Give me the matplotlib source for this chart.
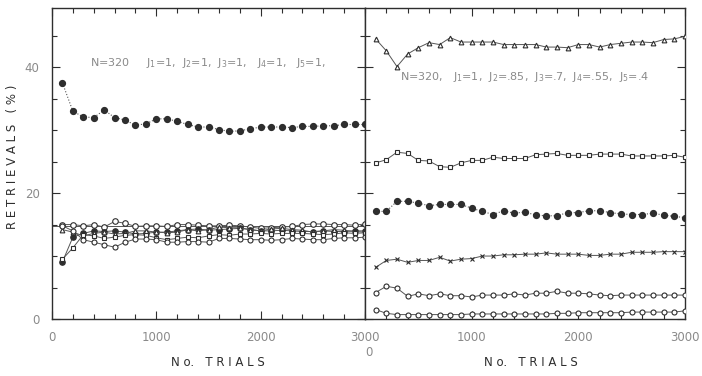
import matplotlib
matplotlib.use("Agg")
import matplotlib.pyplot as plt
from matplotlib.ticker import MultipleLocator

trials = list(range(100, 3001, 100))

# left panel: J1..J5 all = 1
left_top = [37.5, 33.0, 32.1, 32.0, 33.2, 32.0, 31.6, 30.8, 31.0, 31.8,
            31.8, 31.4, 30.9, 30.5, 30.5, 30.1, 29.8, 29.9, 30.2, 30.5,
            30.5, 30.5, 30.4, 30.6, 30.6, 30.7, 30.7, 30.9, 30.9, 30.9]
left_a = [15.0, 15.0, 14.8, 15.0, 14.6, 15.5, 15.2, 14.7, 14.8, 14.8,
          14.7, 15.0, 15.0, 14.9, 14.8, 14.8, 14.9, 14.8, 14.6, 14.4,
          14.5, 14.6, 14.7, 15.0, 15.1, 15.1, 15.0, 15.0, 14.9, 15.1]
left_b = [9.1, 13.0, 13.6, 14.0, 13.9, 14.0, 13.8, 13.5, 13.6, 13.8,
          13.8, 14.0, 14.2, 14.3, 14.1, 14.2, 14.3, 14.4, 14.2, 14.0,
          14.0, 14.1, 14.0, 13.9, 13.9, 14.0, 13.9, 13.9, 14.0, 14.0]
left_c = [14.2, 13.8, 13.2, 13.6, 13.8, 13.5, 13.6, 14.0, 14.0, 13.8,
          13.7, 13.8, 14.2, 14.0, 14.2, 14.6, 14.5, 14.5, 14.2, 14.0,
          14.3, 14.4, 14.2, 14.1, 13.8, 14.0, 14.2, 14.1, 13.9, 13.8]
left_d = [9.5, 11.3, 13.4, 13.2, 12.8, 13.0, 13.3, 13.4, 13.3, 12.9,
          12.6, 12.8, 13.0, 12.9, 13.2, 13.4, 13.3, 13.5, 13.5, 13.6,
          13.5, 13.6, 13.6, 13.6, 13.5, 13.4, 13.5, 13.7, 13.6, 13.7]
left_e = [14.8, 14.0, 12.6, 12.2, 11.8, 11.4, 12.2, 12.7, 12.7, 12.6,
          12.2, 12.2, 12.3, 12.3, 12.2, 12.8, 12.8, 12.7, 12.6, 12.6,
          12.5, 12.6, 12.8, 12.7, 12.6, 12.6, 12.8, 12.9, 12.9, 13.0]
ref_level = 14.8

# right panel: J = 1, .85, .7, .55, .4
right_tri = [44.5, 42.6, 40.1, 42.1, 43.1, 43.9, 43.6, 44.7, 44.0, 44.0,
             44.0, 44.0, 43.6, 43.6, 43.6, 43.6, 43.2, 43.2, 43.1, 43.6,
             43.6, 43.2, 43.6, 43.8, 44.0, 44.0, 43.9, 44.4, 44.5, 44.9]
right_sq = [24.8, 25.3, 26.5, 26.3, 25.2, 25.1, 24.2, 24.1, 24.8, 25.2,
            25.2, 25.7, 25.5, 25.5, 25.5, 26.1, 26.2, 26.3, 26.0, 26.0,
            26.0, 26.2, 26.2, 26.2, 25.9, 25.9, 25.9, 25.9, 26.0, 25.7]
right_fill = [17.1, 17.1, 18.7, 18.7, 18.4, 18.0, 18.2, 18.2, 18.2, 17.6,
              17.1, 16.6, 17.2, 16.8, 17.0, 16.5, 16.4, 16.4, 16.9, 16.9,
              17.2, 17.2, 16.9, 16.7, 16.6, 16.6, 16.8, 16.5, 16.3, 16.1]
right_x = [8.2, 9.3, 9.5, 9.0, 9.3, 9.3, 9.8, 9.2, 9.5, 9.6,
           10.0, 10.0, 10.2, 10.2, 10.3, 10.3, 10.5, 10.3, 10.3, 10.3,
           10.1, 10.1, 10.3, 10.3, 10.6, 10.6, 10.6, 10.7, 10.7, 10.7]
right_circ = [4.2, 5.2, 4.9, 3.6, 4.0, 3.7, 4.0, 3.7, 3.7, 3.5,
              3.8, 3.8, 3.8, 4.0, 3.8, 4.1, 4.1, 4.4, 4.1, 4.1,
              4.0, 3.8, 3.7, 3.8, 3.8, 3.8, 3.8, 3.8, 3.8, 3.8]
right_low = [1.5, 0.9, 0.7, 0.7, 0.7, 0.7, 0.7, 0.7, 0.7, 0.8,
             0.8, 0.8, 0.8, 0.8, 0.8, 0.8, 0.8, 0.9, 0.9, 1.0,
             1.0, 1.0, 1.0, 1.0, 1.1, 1.1, 1.1, 1.1, 1.1, 1.3]

INK = "#2e2e2e"
LINE = "#555555"
TXT = "#8a8a8a"

fig = plt.figure(figsize=(7.02, 3.76), dpi=100)
axL = fig.add_axes([0.0741, 0.1516, 0.4459, 0.827])
axR = fig.add_axes([0.5199, 0.1516, 0.4558, 0.827])

def filled(ax, y, ls=":"):
    ax.plot(trials, y, ls=ls, lw=0.8, color=LINE, marker="o", ms=4.2,
            mfc=INK, mec=INK, zorder=3)

def openm(ax, y, m, ms=3.6):
    ax.plot(trials, y, ls="-", lw=0.7, color=LINE, marker=m, ms=ms,
            mfc="white", mec=INK, mew=0.8, zorder=3)

filled(axL, left_top)
axL.axhline(ref_level, color=LINE, lw=0.7, zorder=1)
openm(axL, left_a, "o", 4)
axL.plot(trials, left_b, ls="-", lw=0.7, color=LINE, marker="o", ms=3.8,
         mfc=INK, mec=INK, zorder=3)
openm(axL, left_c, "^", 3.4)
openm(axL, left_d, "s", 3.2)
openm(axL, left_e, "o", 3.6)

openm(axR, right_tri, "^", 3.4)
openm(axR, right_sq, "s", 3.2)
filled(axR, right_fill)
axR.plot(trials, right_x, ls="-", lw=0.7, color=LINE, marker="x", ms=3,
         mec=INK, mew=0.8, zorder=3)
openm(axR, right_circ, "o", 3.6)
openm(axR, right_low, "o", 3.6)

for ax in (axL, axR):
    ax.set_xlim(0, 3000)
    ax.set_ylim(0, 49.4)
    ax.xaxis.set_major_locator(MultipleLocator(1000))
    ax.xaxis.set_minor_locator(MultipleLocator(200))
    ax.yaxis.set_major_locator(MultipleLocator(20))
    ax.yaxis.set_minor_locator(MultipleLocator(5))
    ax.tick_params(which="both", direction="in", top=True, right=True,
                   color=INK, width=0.8, labelcolor=TXT, labelsize=8.5)
    ax.tick_params(which="major", length=6, pad=9)
    ax.tick_params(which="minor", length=3.5)
    for s in ax.spines.values():
        s.set_color(INK)
        s.set_linewidth(1.0)

axL.set_xticks([0, 1000, 2000, 3000])
axR.set_xticks([1000, 2000, 3000])
axR.set_yticklabels([])
axR.text(0.012, -0.088, "0", transform=axR.transAxes, ha="center", va="top",
         color=TXT, fontsize=8.5)

axL.set_ylabel("R E T R I E V A L S   ( % )", color=INK, fontsize=8.5, labelpad=7)
axL.set_xlabel("N o.   T R I A L S", color=INK, fontsize=8.5)
axR.set_xlabel("N o.   T R I A L S", color=INK, fontsize=8.5)
axL.xaxis.set_label_coords(0.53, -0.12)
axR.xaxis.set_label_coords(0.52, -0.12)
axL.yaxis.set_label_coords(-0.105, 0.52)

axL.text(0.12, 0.815, r"N=320     J$_1$=1,  J$_2$=1,  J$_3$=1,   J$_4$=1,   J$_5$=1,",
         transform=axL.transAxes, color=TXT, fontsize=8)
axR.text(0.11, 0.77, r"N=320,   J$_1$=1,  J$_2$=.85,  J$_3$=.7,  J$_4$=.55,  J$_5$=.4",
         transform=axR.transAxes, color=TXT, fontsize=8)

fig.savefig("out.png", dpi=100)
